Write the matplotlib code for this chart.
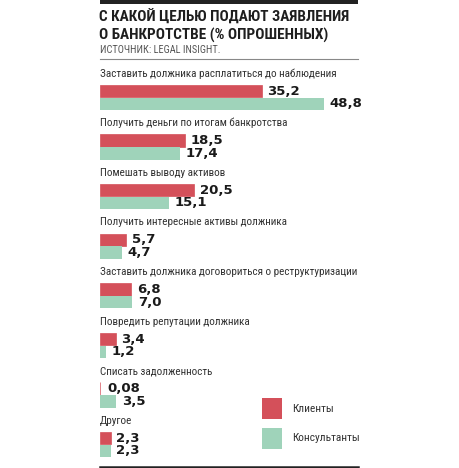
import numpy as np
import matplotlib
matplotlib.use("Agg")
import matplotlib.pyplot as plt
from matplotlib.patches import Rectangle

# Данные
categories = [
    "Заставить должника расплатиться до наблюдения",
    "Получить деньги по итогам банкротства",
    "Помешать выводу активов",
    "Получить интересные активы должника",
    "Заставить должника договориться о реструктуризации",
    "Повредить репутации должника",
    "Списать задолженность",
    "Другое",
]
clients = [35.2, 18.5, 20.5, 5.7, 6.8, 3.4, 0.08, 2.3]
consultants = [48.8, 17.4, 15.1, 4.7, 7.0, 1.2, 3.5, 2.3]
clients_txt = ["35,2", "18,5", "20,5", "5,7", "6,8", "3,4", "0,08", "2,3"]
consultants_txt = ["48,8", "17,4", "15,1", "4,7", "7,0", "1,2", "3,5", "2,3"]

title_lines = ["С КАКОЙ ЦЕЛЬЮ ПОДАЮТ ЗАЯВЛЕНИЯ", "О БАНКРОТСТВЕ (% ОПРОШЕННЫХ)"]
source = "ИСТОЧНИК: LEGAL INSIGHT."
legend_labels = ["Клиенты", "Консультанты"]

RED = "#d4505a"
GREEN = "#9fd3ba"
narrow = ["Roboto Condensed", "DejaVu Sans"]

W, H = 460, 468
fig = plt.figure(figsize=(W / 100, H / 100), dpi=100)
fig.patch.set_facecolor("white")

# фон для линий и заголовка (пиксельные координаты)
bg = fig.add_axes([0, 0, 1, 1])
bg.set_xlim(0, W)
bg.set_ylim(H, 0)
bg.axis("off")

bg.add_patch(Rectangle((100, 0), 258, 3.5, color="#222222", lw=0))
bg.plot([100, 358], [59, 59], color="#888888", lw=0.8)
bg.plot([100, 358], [466.5, 466.5], color="#222222", lw=1.8)

bg.text(99, 17, title_lines[0], family=narrow, fontweight="bold",
        fontsize=11, color="#1e1e1e", va="center", ha="left")
bg.text(99, 35, title_lines[1], family=narrow, fontweight="bold",
        fontsize=11, color="#1e1e1e", va="center", ha="left")
bg.text(100, 50, source, family=narrow, fontsize=7.5,
        color="#555555", va="center", ha="left")

# легенда
bg.add_patch(Rectangle((262, 398), 20, 21, color=RED, lw=0))
bg.add_patch(Rectangle((262, 428), 20, 21, color=GREEN, lw=0))
bg.text(292, 409, legend_labels[0], family=narrow, fontsize=8.2,
        color="#333333", va="center", ha="left")
bg.text(292, 438, legend_labels[1], family=narrow, fontsize=8.2,
        color="#333333", va="center", ha="left")

# столбцы
ax = fig.add_axes([100 / W, 0, (W - 100) / W, 1])
ax.patch.set_alpha(0)
px_per_unit = 4.59
step = 49.6
ax.set_xlim(0, (W - 100) / px_per_unit)
ax.set_ylim((H - 91) / step, -91 / step)
ax.axis("off")

pos = np.arange(len(categories))
bh = 0.25
ax.barh(pos, clients, height=bh, color=RED, edgecolor=RED, linewidth=0.5)
ax.barh(pos + 0.257, consultants, height=bh, color=GREEN, linewidth=0)

for i in range(len(categories)):
    ax.text(0, pos[i] - 0.35, categories[i], family=narrow, fontsize=8,
            color="#333333", va="center", ha="left")
    ax.annotate(clients_txt[i], (max(clients[i], 0.3), pos[i]),
                xytext=(4, 0), textcoords="offset points",
                fontweight="bold", fontsize=9.5, color="#1a1a1a",
                va="center", ha="left")
    ax.annotate(consultants_txt[i], (consultants[i], pos[i] + 0.257),
                xytext=(4, 0), textcoords="offset points",
                fontweight="bold", fontsize=9.5, color="#1a1a1a",
                va="center", ha="left")

fig.savefig("out.png", dpi=100)
